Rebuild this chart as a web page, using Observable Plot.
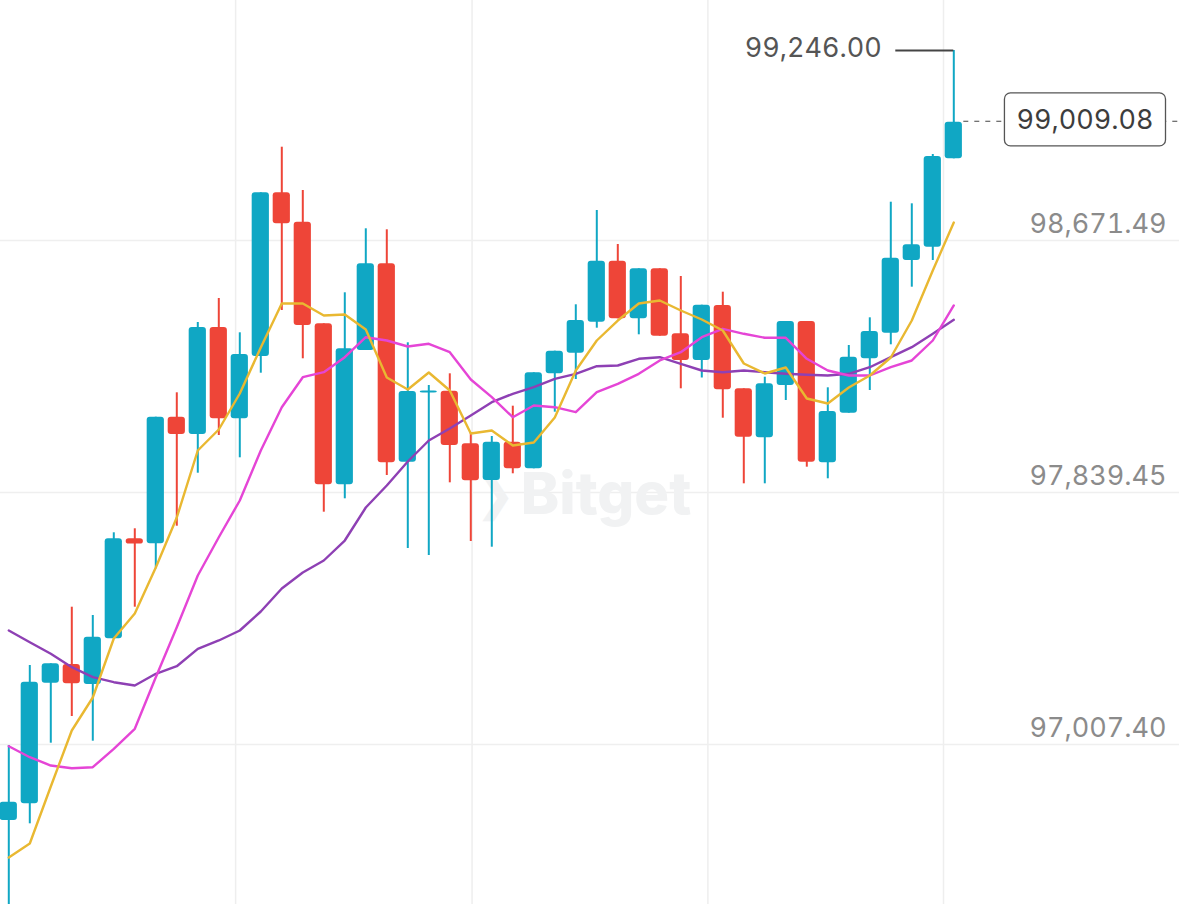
<!DOCTYPE html>
<html><head><meta charset="utf-8">
<script src="https://cdn.jsdelivr.net/npm/d3@7"></script>
<script src="https://cdn.jsdelivr.net/npm/@observablehq/plot@0.6"></script>
<style>
html,body{margin:0;padding:0;background:#fff;}
#chart svg{display:block;}
#chart svg text{font-variant-numeric:tabular-nums;}
</style></head><body><div id="chart"></div>
<script>
const opens  = [96703.6,96758.7,97157.0,97218.7,97152.7,97303.6,97633.7,97617.2,98035.2,97978.1,98331.4,98030.0,98235.7,98776.2,98679.1,98343.6,97812.0,98255.5,98541.7,97886.7,98115.2,98121.1,97947.4,97826.2,97952.7,97864.9,98178.5,98246.6,98348.9,98550.3,98360.1,98525.2,98310.6,98222.5,98404.1,98129.0,97967.2,98139.9,98351.2,97884.7,98048.4,98228.1,98312.6,98552.6,98596.5,98888.4];
const highs  = [96951.3,97215.4,97221.0,97407.9,97380.5,97653.6,97666.8,98035.2,98115.8,98347.9,98427.2,98313.9,98776.2,98926.7,98783.8,98343.6,98446.0,98657.3,98654.0,98280.9,98139.9,98178.5,97981.4,97971.5,98071.6,98181.8,98253.2,98406.4,98717.7,98605.5,98525.2,98525.2,98499.8,98405.0,98448.0,98129.0,98167.3,98351.2,98351.2,98132.3,98272.0,98363.4,98745.1,98739.8,98902.6,99246.00];
const lows   = [96390.0,96692.7,96958.9,97047.0,96965.5,97303.6,97407.9,97534.7,97675.3,97850.3,97974.8,97901.2,98180.5,98387.5,98228.1,97721.6,97765.8,98255.5,97842.8,97601.7,97578.6,97818.6,97624.8,97606.0,97848.4,97864.9,98051.8,98159.7,98329.1,98360.1,98307.3,98302.7,98129.0,98164.7,98031.9,97815.3,97815.3,98090.4,97870.2,97831.9,98048.4,98123.4,98274.3,98464.5,98552.6,98888.4];
const closes = [96764.1,97160.3,97221.0,97155.0,97308.9,97633.7,97616.6,98035.2,97978.1,98331.4,98030.0,98242.3,98776.2,98673.8,98338.0,97812.0,98261.1,98541.7,97884.7,98120.1,98121.8,97941.8,97825.2,97952.7,97864.9,98181.8,98253.2,98354.5,98550.3,98360.1,98525.2,98302.7,98222.5,98405.0,98125.7,97969.2,98145.5,98351.2,97886.7,98054.1,98233.4,98318.2,98560.2,98604.5,98896.0,99009.08];
const maYellow  = [96581.5,96627.7,96815.9,97000.8,97109.7,97304.6,97387.1,97539.0,97704.1,97925.3,97994.6,98113.5,98265.4,98410.7,98410.7,98371.0,98374.3,98324.8,98166.3,98126.7,98182.8,98123.4,97981.4,97991.3,97941.8,97951.7,98034.3,98189.4,98288.5,98354.5,98410.7,98420.6,98387.5,98357.8,98321.5,98212.6,98179.5,98199.3,98097.0,98080.5,98133.3,98172.9,98232.4,98354.5,98519.6,98678.1];
const maMagenta = [96949.0,96912.6,96885.2,96876.3,96879.6,96940.4,97006.4,97176.8,97341.9,97512.6,97639.0,97760.2,97925.3,98068.3,98167.3,98183.8,98233.4,98299.4,98288.5,98268.7,98277.6,98249.9,98159.7,98101.3,98035.2,98073.9,98068.3,98051.8,98117.8,98145.5,98178.5,98222.5,98249.9,98299.4,98327.1,98310.6,98297.4,98297.4,98228.1,98189.4,98172.9,98172.9,98200.3,98222.5,98288.5,98404.1];
const maPurple  = [97331.0,97292.3,97254.0,97209.8,97176.8,97160.3,97149.4,97188.0,97213.1,97270.5,97298.0,97331.0,97393.7,97469.6,97522.5,97562.1,97628.1,97737.1,97809.7,97889.0,97958.3,97997.9,98040.9,98084.8,98112.5,98134.3,98162.0,98178.5,98203.6,98206.0,98228.1,98233.4,98211.6,98189.4,98183.8,98189.4,98183.8,98178.5,98175.2,98172.9,98178.5,98200.3,98233.4,98266.4,98310.6,98356.8];
const yTicks = [98671.49, 97839.45, 97007.40];
const xGridIdx = [10.8, 22.06, 33.29, 44.51];
const lastHigh = 99246.00;
const lastClose = 99009.08;
const watermark = "Bitget";

const UP = "#10A7C4", DOWN = "#EE4538";
const fmt = d3.format(",.2f");
const XMIN = -0.395, XMAX = 55.748;
const candles = opens.map((o, i) => ({i, open: o, high: highs[i], low: lows[i], close: closes[i], up: closes[i] >= o}));
const toRows = arr => arr.map((v, i) => ({i, v}));
const lastI = candles.length - 1;
const hiRow = [{i: lastI, v: lastHigh}];
const closeRow = [{i: lastI, v: lastClose}];
const txt = {fontSize: 27, letterSpacing: "0.6px"};

const chart = Plot.plot({
  width: 1179, height: 904, margin: 0,
  x: {type: "linear", domain: [XMIN, XMAX], axis: null},
  y: {domain: [96426.30, 99411.08], axis: null},
  color: {type: "identity"},
  style: {fontFamily: "Inter, 'Noto Sans', sans-serif", background: "#fff"},
  marks: [
    Plot.ruleX(xGridIdx, {stroke: "#eeeeee", strokeWidth: 1.5}),
    Plot.ruleY(yTicks, {stroke: "#efefef", strokeWidth: 1.5, dy: 16}),
    Plot.text([watermark], {frameAnchor: "middle", dx: 16, dy: 43, fontSize: 58, fontWeight: 800, fill: "#f1f2f3"}),
    Plot.text(["❯"], {frameAnchor: "middle", dx: -95, dy: 43, fontSize: 44, fontWeight: 800, fill: "#f1f2f3"}),
    Plot.ruleX(candles, {x: "i", y1: "low", y2: "high", stroke: d => d.up ? UP : DOWN, strokeWidth: 2}),
    Plot.rect(candles, {x1: d => d.i - 0.41, x2: d => d.i + 0.41, y1: "open", y2: "close", fill: d => d.up ? UP : DOWN, rx: 3}),
    Plot.line(toRows(maPurple), {x: "i", y: "v", stroke: "#8E40B4", strokeWidth: 2.4}),
    Plot.line(toRows(maMagenta), {x: "i", y: "v", stroke: "#E545D6", strokeWidth: 2.4}),
    Plot.line(toRows(maYellow), {x: "i", y: "v", stroke: "#E9B831", strokeWidth: 2.4}),
    Plot.text(yTicks, {y: d => d, frameAnchor: "right", dx: -13, textAnchor: "end", text: d => fmt(d), fill: "#8b8b8b", ...txt}),
    Plot.ruleY(hiRow, {y: "v", x1: "i", x2: "i", insetLeft: -58, stroke: "#444", strokeWidth: 2}),
    Plot.text(hiRow, {x: "i", y: "v", textAnchor: "end", dx: -72, dy: -2, text: d => fmt(d.v), fill: "#555", ...txt}),
    Plot.ruleY(closeRow, {y: "v", x1: "i", x2: () => XMAX, insetLeft: 10, dy: -1, stroke: "#444", strokeWidth: 1.2, strokeDasharray: "5,6"}),
    Plot.text(closeRow, {y: "v", frameAnchor: "right", dx: -26, dy: -2, textAnchor: "end", text: d => fmt(d.v), fill: "#3d3d3d", ...txt})
  ]
});
document.getElementById("chart").appendChild(chart);

// white rounded box behind the last-price label
const label = fmt(lastClose);
const t = Array.from(chart.querySelectorAll("text")).filter(e => e.textContent === label).pop();
if (t) {
  const bb = t.getBBox();
  const r = document.createElementNS("http://www.w3.org/2000/svg", "rect");
  const cy = bb.y + bb.height / 2;
  r.setAttribute("x", bb.x - 12);
  r.setAttribute("y", cy - 26.5);
  r.setAttribute("width", bb.width + 24);
  r.setAttribute("height", 53);
  r.setAttribute("rx", 6);
  r.setAttribute("fill", "#fff");
  r.setAttribute("stroke", "#555");
  r.setAttribute("stroke-width", 1.3);
  const tr = t.getAttribute("transform");
  if (tr) r.setAttribute("transform", tr);
  t.parentNode.insertBefore(r, t);
}
</script></body></html>
